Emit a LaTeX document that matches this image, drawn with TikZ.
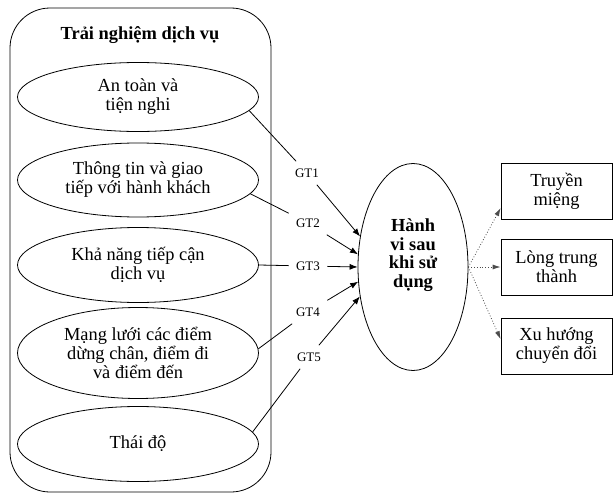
\documentclass[tikz,border=0pt]{standalone}
\usepackage{fontspec}
\setmainfont{Liberation Serif}
\usetikzlibrary{shapes.geometric,arrows.meta}
\tikzset{
	oval/.style={draw, ellipse, minimum width=241, inner sep=0pt, align=center, font=\fontsize{18.4}{19}\selectfont},
	gtlabel/.style={inner sep=7pt, font=\fontsize{13}{15}\selectfont},
	outbox/.style={draw, rectangle, minimum width=111, minimum height=56, inner sep=0pt, align=center, font=\fontsize{18.4}{19}\selectfont},
	gtarrow/.style={-{Latex[length=8pt,width=6pt]}},
	dotarrow/.style={dotted, draw=black!70, -{Latex[length=8pt,width=5pt]}}
}

\begin{document}
\begin{tikzpicture}[x=1pt, y=-1pt, line width=0.8pt]
			%%%%% START %%%%%
			\useasboundingbox (0, 0) rectangle (615, 495);
			
			\draw[rounded corners=40] (10, 8) rectangle (271, 492);
			\node[font=\fontsize{18.4}{19}\selectfont\bfseries] (title) at (140, 35) {Trải nghiệm dịch vụ};
			
			\node[oval, minimum height=69] (e1) at (138, 97) {An toàn và\\tiện nghi};
			\node[oval, minimum height=74] (e2) at (138, 180) {Thông tin và giao\\tiếp với hành khách};
			\node[oval, minimum height=75] (e3) at (138, 265) {Khả năng tiếp cận\\dịch vụ};
			\node[oval, minimum height=91] (e4) at (138, 353) {Mạng lưới các điểm\\dừng chân, điểm đi\\và điểm đến};
			\node[oval, minimum height=75] (e5) at (138, 444) {Thái độ};
			
			\node[gtlabel] (gt1) at (307, 173) {GT1};
			\node[gtlabel] (gt2) at (308, 223) {GT2};
			\node[gtlabel] (gt3) at (308, 266) {GT3};
			\node[gtlabel] (gt4) at (308, 312) {GT4};
			\node[gtlabel] (gt5) at (309, 357) {GT5};
			
			\node[draw, ellipse, minimum width=110, minimum height=207, inner sep=0pt] (hv) at (413, 267) {};
			\node[align=center, font=\fontsize{18.4}{18.7}\selectfont\bfseries] (hvtext) at (413, 255) {Hành\\vi sau\\khi sử\\dụng};
			
			\node[outbox] (b1) at (556.5, 191) {Truyền\\miệng};
			\node[outbox] (b2) at (556.5, 267) {Lòng trung\\thành};
			\node[outbox] (b3) at (556.5, 346) {Xu hướng\\chuyển đổi};
			
			\draw (e1.-7) -- (gt1);
			\draw (e2.-7) -- (gt2);
			\draw (e3.east) -- (gt3);
			\draw (e4.2) -- (gt4);
			\draw (e5.6) -- (gt5);
			
			\draw[gtarrow] (gt1) -- (hv.150);
			\draw[gtarrow] (gt2) -- (hv.167);
			\draw[gtarrow] (gt3) -- (hv.180);
			\draw[gtarrow] (gt4) -- (hv.195);
			\draw[gtarrow] (gt5) -- (hv.209);
			
			\draw[dotarrow] (hv.east) -- (b1.197);
			\draw[dotarrow] (hv.east) -- (b2.west);
			\draw[dotarrow] (hv.east) -- (b3.173);
			%%%%% END %%%%%
\end{tikzpicture}
\end{document}
